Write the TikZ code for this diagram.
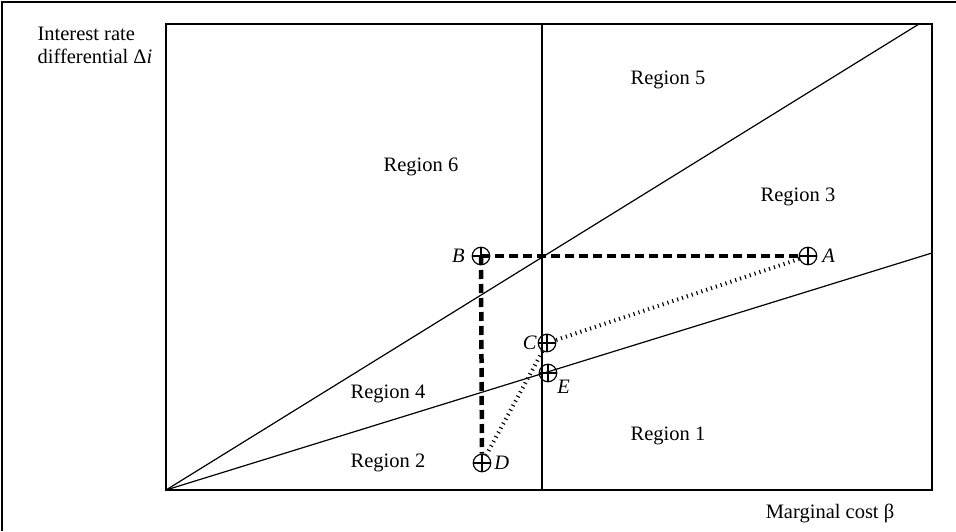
\documentclass[tikz,border=0pt]{standalone}
\usepackage{fontspec}
\setmainfont{Liberation Serif}

\begin{document}
\begin{tikzpicture}[x=1pt, y=1pt, line width=1.2pt,
  font=\fontsize{20.5}{23}\selectfont,
  mark pt/.style={circle, draw, line width=1.2pt, minimum size=17.5pt, inner sep=0pt,
    path picture={\draw (path picture bounding box.north) -- (path picture bounding box.south)
      (path picture bounding box.west) -- (path picture bounding box.east);}},
  path move/.style={line width=4.5pt, dash pattern=on 9pt off 5pt},
  path drift/.style={line width=4pt, dash pattern=on 1.1pt off 4pt}]
  \useasboundingbox (-166,-41) rectangle (790,490);

  % frame of the figure
  \draw (-164,-41) -- (-164,488) -- (790,488);

  \coordinate (O) at (0,0);
  \coordinate (TR) at (766,466);
  \coordinate (Vb) at (376,0);
  \coordinate (Vt) at (376,466);
  \coordinate (Up) at (753,466);
  \coordinate (Lo) at (766,237);

  \draw (O) rectangle (TR);
  \draw (Vb) -- (Vt);
  \draw (O) -- (Up);
  \draw (O) -- (Lo);

  % points
  \node[mark pt, label={[label distance=3pt]left:\textit{B}}] (B) at (315,234) {};
  \node[mark pt, label={[label distance=1pt]right:\textit{A}}] (A) at (642,234) {};
  \node[mark pt, label={[label distance=-3pt]left:\textit{C}}] (C) at (381,147) {};
  \node[mark pt, label={[label distance=-3pt]-30:\textit{E}}] (E) at (382,117) {};
  \node[mark pt, label={[label distance=-1pt]right:\textit{D}}] (D) at (316,27) {};

  \draw[path move] (B.center) -- (A);
  \draw[path move] (B.center) -- (D);
  \draw[path drift] (A) -- (C) -- (D);

  % regions
  \node[anchor=base] at (502,405) {Region 5};
  \node[anchor=base] at (255,318) {Region 6};
  \node[anchor=base] at (632,288) {Region 3};
  \node[anchor=base] at (222,92)  {Region 4};
  \node[anchor=base] at (222,23)  {Region 2};
  \node[anchor=base] at (502,50)  {Region 1};

  % axes
  \node[anchor=north west, align=left, inner sep=0pt] at (-129,464)
    {Interest rate\\differential Δ\textit{i}};
  \node[anchor=base] at (664,-28) {Marginal cost β};
\end{tikzpicture}
\end{document}
